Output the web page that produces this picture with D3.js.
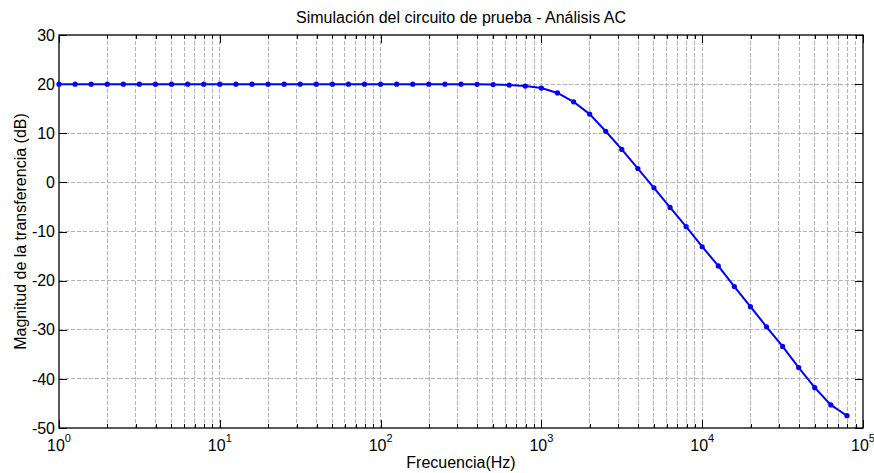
<!DOCTYPE html>
<html>
<head>
<meta charset="utf-8">
<script src="https://cdn.jsdelivr.net/npm/d3@7"></script>
<style>
  html, body { margin: 0; padding: 0; background: #fff; }
  svg { display: block; }
  text { font-family: "Liberation Sans", Arial, Helvetica, sans-serif; fill: #000; }
</style>
</head>
<body>
<svg id="chart" width="874" height="473"></svg>
<script>
// ---- data ----
const frequencies = [
  1, 1.2589, 1.5849, 1.9953, 2.5119, 3.1623, 3.9811, 5.0119, 6.3096, 7.9433,
  10, 12.589, 15.849, 19.953, 25.119, 31.623, 39.811, 50.119, 63.096, 79.433,
  100, 125.89, 158.49, 199.53, 251.19, 316.23, 398.11, 501.19, 630.96, 794.33,
  1000, 1258.9, 1584.9, 1995.3, 2511.9, 3162.3, 3981.1, 5011.9, 6309.6, 7943.3,
  10000, 12589, 15849, 19953, 25119, 31623, 39811, 50119, 63096, 79433
];
const magnitudeDb = [
  20, 20, 20, 20, 20, 20, 20, 20, 20, 20,
  20, 20, 20, 20, 20, 20, 20, 20, 20, 20,
  20, 20, 20, 20, 20, 20, 19.95, 19.9, 19.8, 19.6,
  19.2, 18.2, 16.4, 13.9, 10.4, 6.7, 2.8, -1.1, -5.1, -9.0,
  -13.1, -17.0, -21.2, -25.3, -29.4, -33.4, -37.7, -41.8, -45.3, -47.5
];
const xMajorTicks = [1, 10, 100, 1000, 10000, 100000];
const xTickExponents = ["0", "1", "2", "3", "4", "5"];
const yTicks = [-50, -40, -30, -20, -10, 0, 10, 20, 30];
const titleText = "Simulación del circuito de prueba - Análisis AC";
const xLabelText = "Frecuencia(Hz)";
const yLabelText = "Magnitud de la transferencia (dB)";

// ---- layout ----
const W = 874, H = 473;
const margin = { left: 59, right: 11, top: 35, bottom: 45 };
const iw = W - margin.left - margin.right;
const ih = H - margin.top - margin.bottom;

const svg = d3.select("#chart");
const g = svg.append("g").attr("transform", `translate(${margin.left},${margin.top})`);

const x = d3.scaleLog().domain([1, 100000]).range([0, iw]);
const y = d3.scaleLinear().domain([-50, 30]).range([ih, 0]);

// minor tick positions
const xMinor = [];
for (let d = 0; d < 5; d++) {
  for (let m = 2; m <= 9; m++) xMinor.push(m * Math.pow(10, d));
}
const xAllGrid = xMinor.concat(xMajorTicks.slice(1, -1));

// ---- grid ----
const gridColor = "#b4b4b4";
g.append("g").selectAll("line").data(xAllGrid).join("line")
  .attr("x1", d => x(d)).attr("x2", d => x(d))
  .attr("y1", 0).attr("y2", ih)
  .attr("stroke", gridColor).attr("stroke-width", 1)
  .attr("stroke-dasharray", "4,2").attr("shape-rendering", "crispEdges");
g.append("g").selectAll("line").data(yTicks.slice(1, -1)).join("line")
  .attr("x1", 0).attr("x2", iw)
  .attr("y1", d => y(d)).attr("y2", d => y(d))
  .attr("stroke", gridColor).attr("stroke-width", 1)
  .attr("stroke-dasharray", "4,2").attr("shape-rendering", "crispEdges");

// ---- axes (inward ticks) ----
const majorLen = 8, minorLen = 4;
function styleAxis(sel) {
  sel.select(".domain").remove();
  sel.selectAll(".tick line").attr("stroke", "#000").attr("stroke-width", 1).attr("shape-rendering", "crispEdges");
}
// bottom major
const xAxisB = g.append("g").attr("transform", `translate(0,${ih})`)
  .call(d3.axisBottom(x).tickValues(xMajorTicks).tickSize(-majorLen).tickFormat(() => ""));
styleAxis(xAxisB);
xAxisB.selectAll(".tick text").remove();
// bottom minor
const xAxisBm = g.append("g").attr("transform", `translate(0,${ih})`)
  .call(d3.axisBottom(x).tickValues(xMinor).tickSize(-minorLen).tickFormat(() => ""));
styleAxis(xAxisBm);
// top major/minor
const xAxisT = g.append("g")
  .call(d3.axisTop(x).tickValues(xMajorTicks).tickSize(-majorLen).tickFormat(() => ""));
styleAxis(xAxisT);
const xAxisTm = g.append("g")
  .call(d3.axisTop(x).tickValues(xMinor).tickSize(-minorLen).tickFormat(() => ""));
styleAxis(xAxisTm);
// left / right
const yAxisL = g.append("g")
  .call(d3.axisLeft(y).tickValues(yTicks).tickSize(-majorLen).tickPadding(4).tickFormat(d => String(d)));
styleAxis(yAxisL);
yAxisL.selectAll(".tick text").attr("font-size", 16).attr("font-family", "Liberation Sans, Arial, sans-serif").attr("fill", "#000");
const yAxisR = g.append("g").attr("transform", `translate(${iw},0)`)
  .call(d3.axisRight(y).tickValues(yTicks).tickSize(-majorLen).tickFormat(() => ""));
styleAxis(yAxisR);

// x tick labels with superscripts
const xl = g.append("g").selectAll("text").data(xMajorTicks).join("text")
  .attr("x", d => x(d)).attr("y", ih + 23)
  .attr("text-anchor", "middle").attr("font-size", 16);
xl.append("tspan").text("10");
xl.append("tspan").attr("dy", -9).attr("font-size", 11).text((d, i) => xTickExponents[i]);

// box
g.append("rect").attr("x", 0).attr("y", 0).attr("width", iw).attr("height", ih)
  .attr("fill", "none").attr("stroke", "#000").attr("stroke-width", 1.3);

// ---- series ----
const pts = frequencies.map((f, i) => [f, magnitudeDb[i]]);
g.append("path").datum(pts)
  .attr("fill", "none").attr("stroke", "#0000ff").attr("stroke-width", 2)
  .attr("d", d3.line().x(d => x(d[0])).y(d => y(d[1])));
g.append("g").selectAll("circle").data(pts).join("circle")
  .attr("cx", d => x(d[0])).attr("cy", d => y(d[1])).attr("r", 2.6)
  .attr("fill", "#0000ff");

// ---- labels ----
svg.append("text").attr("x", margin.left + iw / 2).attr("y", 23)
  .attr("text-anchor", "middle").attr("font-size", 16).text(titleText);
svg.append("text").attr("x", margin.left + iw / 2).attr("y", 468)
  .attr("text-anchor", "middle").attr("font-size", 16).text(xLabelText);
svg.append("text")
  .attr("transform", `translate(26,${margin.top + ih / 2}) rotate(-90)`)
  .attr("text-anchor", "middle").attr("font-size", 16).text(yLabelText);
</script>
</body>
</html>
